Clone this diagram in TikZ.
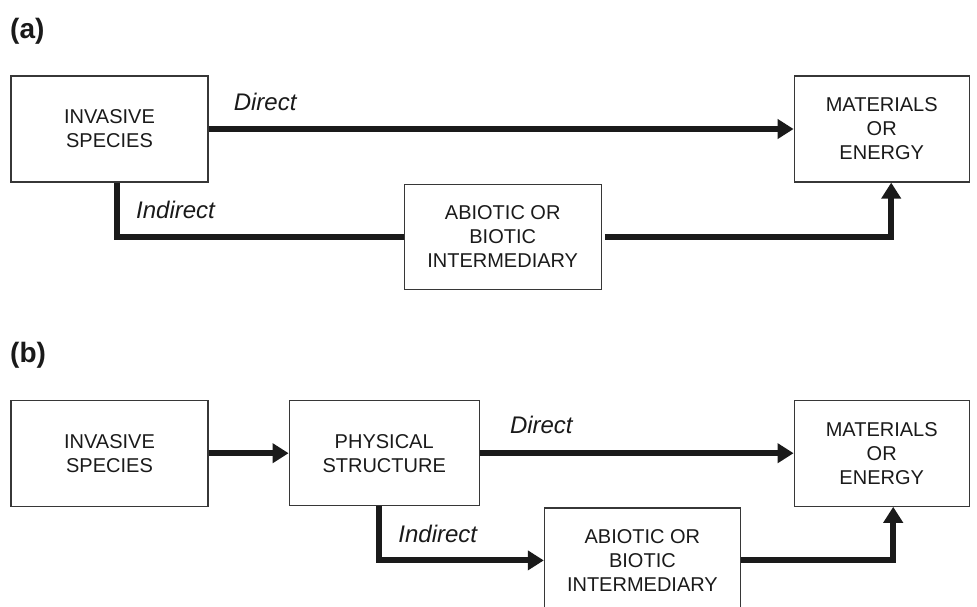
\documentclass[tikz,border=0pt]{standalone}
\usepackage{fontspec}
\setmainfont{Liberation Sans}
\usepackage{xcolor}
\usepackage{tikz}
\usetikzlibrary{arrows.meta, positioning}
\definecolor{inkline}{RGB}{26, 26, 26}
\definecolor{boxline}{RGB}{55, 55, 55}

\begin{document}
\begin{tikzpicture}[
  x=1pt, y=1pt,
  box/.style={rectangle, draw=boxline, line width=1.2pt, inner sep=0pt,
              minimum width=197pt, minimum height=106pt, align=center,
              text=inkline, font=\fontsize{20pt}{24pt}\selectfont},
  wire/.style={draw=inkline, line width=6pt},
  flow/.style={wire, -{Triangle[length=16pt, width=19pt]}},
  pathlbl/.style={inner sep=0pt, text=inkline,
                  font=\fontsize{24pt}{28pt}\selectfont\itshape},
  panel/.style={inner sep=0pt, anchor=north west, text=inkline,
                font=\fontsize{28pt}{30pt}\selectfont\bfseries}
]
\useasboundingbox (0,0) rectangle (977,-606);

% panel (a)
\node[panel] (tag_a) at (10,-18) {(a)};
\node[box] (inv_a) at (109.5,-129) {INVASIVE\\SPECIES};
\node[box, minimum width=175pt, right=585pt of inv_a] (mat_a) {MATERIALS\\OR\\ENERGY};
\node[box, minimum height=105pt, anchor=north west,
      below right=1pt and 195pt of inv_a.south east] (abio_a)
  {ABIOTIC OR\\BIOTIC\\INTERMEDIARY};

\draw[flow] (inv_a) -- (mat_a);
\draw[wire] ([xshift=7.5pt]inv_a.south) |- (abio_a.west);
\draw[flow, shorten <=3pt] (abio_a.east) -| ([xshift=9.5pt]mat_a.south);

\node[pathlbl, above right=18pt and 25pt of inv_a.east] (dir_a) {Direct};
\node[pathlbl, below right=18.5pt and 26.5pt of inv_a.south] (ind_a) {Indirect};

% panel (b)
\node[panel] (tag_b) at (10,-342) {(b)};
\node[box, below=217pt of inv_a] (inv_b) {INVASIVE\\SPECIES};
\node[box, minimum width=190pt, minimum height=105pt, right=80pt of inv_b] (phys_b)
  {PHYSICAL\\STRUCTURE};
\node[box, minimum width=175pt, right=585pt of inv_b] (mat_b) {MATERIALS\\OR\\ENERGY};
\node[box, minimum width=196pt, minimum height=105pt,
      below right=1pt and 64pt of phys_b.south east] (abio_b)
  {ABIOTIC OR\\BIOTIC\\INTERMEDIARY};

\draw[flow] (inv_b) -- (phys_b);
\draw[flow] (phys_b) -- (mat_b);
\draw[flow] ([xshift=-5pt]phys_b.south) |- (abio_b.west);
\draw[flow] (abio_b.east) -| ([xshift=11.5pt]mat_b.south);

\node[pathlbl, above right=19pt and 30pt of phys_b.east] (dir_b) {Direct};
\node[pathlbl, below right=19pt and 14pt of phys_b.south] (ind_b) {Indirect};
\end{tikzpicture}
\end{document}
